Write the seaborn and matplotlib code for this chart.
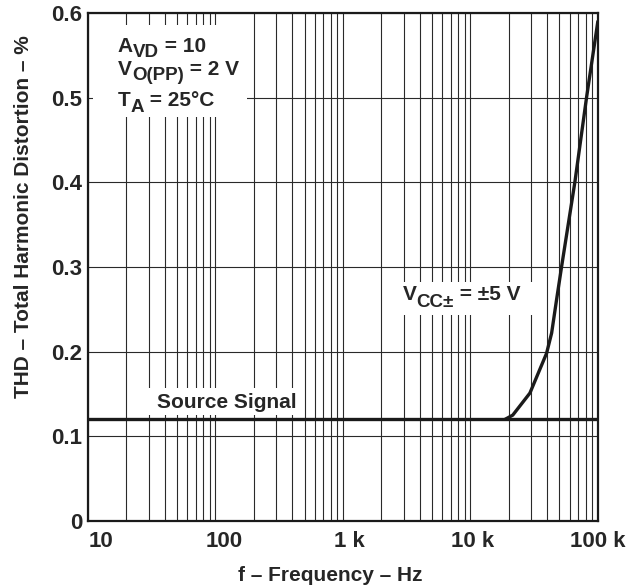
import numpy as np
import pandas as pd
import matplotlib
matplotlib.use("Agg")
import matplotlib.pyplot as plt
import matplotlib.transforms as mtransforms
from matplotlib.patches import Rectangle
import seaborn as sns

# valores
freq_fuente = [10, 100000]
thd_fuente = [0.12, 0.12]

freq_vcc = [18700, 21500, 29300, 39600, 43400, 47400, 51900, 66000, 81500, 100000]
thd_vcc = [0.12, 0.125, 0.151, 0.198, 0.222, 0.261, 0.300, 0.400, 0.500, 0.590]

x_ticks = [10, 100, 1000, 10000, 100000]
x_labels = ["10", "100", "1 k", "10 k", "100 k"]
y_ticks = [0, 0.1, 0.2, 0.3, 0.4, 0.5, 0.6]
y_labels = ["0", "0.1", "0.2", "0.3", "0.4", "0.5", "0.6"]

sns.set_style("white")
plt.rcParams['font.family'] = ['Liberation Sans', 'DejaVu Sans']
plt.rcParams['font.weight'] = 'bold'

df_fuente = pd.DataFrame({'f': freq_fuente, 'thd': thd_fuente})
df_vcc = pd.DataFrame({'f': freq_vcc, 'thd': thd_vcc})

fig = plt.figure(figsize=(6.28, 5.88), dpi=100)
ax = fig.add_axes([0.140, 0.114, 0.812, 0.864])

sns.lineplot(x='f', y='thd', data=df_fuente, ax=ax, color='#1a1a1a', linewidth=2.4, zorder=3)
sns.lineplot(x='f', y='thd', data=df_vcc, ax=ax, color='#1a1a1a', linewidth=2.4, zorder=3,
             estimator=None)

ax.set_xscale('log')
ax.set_xlim(10, 100000)
ax.set_ylim(0, 0.6)
ax.set_xticks(x_ticks)
ax.set_xticklabels(x_labels)
ax.set_yticks(y_ticks)
ax.set_yticklabels(y_labels)
ax.xaxis.set_minor_locator(matplotlib.ticker.LogLocator(base=10, subs=np.arange(2, 10)))
ax.xaxis.set_minor_formatter(matplotlib.ticker.NullFormatter())
ax.grid(True, which='both', axis='x', color='#2a2a2a', linewidth=0.8)
ax.grid(True, which='major', axis='y', color='#2a2a2a', linewidth=0.8)
ax.tick_params(axis='both', which='both', length=0, labelsize=16)
ax.tick_params(axis='x', pad=7)
ax.tick_params(axis='y', pad=4)
for s in ax.spines.values():
    s.set_color('#1a1a1a')
    s.set_linewidth(1.6)

# las etiquetas del eje x van algo corridas a la derecha
corrimiento = [13, 9, 6, 2, 0]
for lab, dx in zip(ax.get_xticklabels(), corrimiento):
    lab.set_transform(lab.get_transform() + mtransforms.ScaledTranslation(dx / 100, 0, fig.dpi_scale_trans))

ax.set_xlabel("f – Frequency – Hz", fontsize=15, fontweight='bold')
ax.set_ylabel("THD – Total Harmonic Distortion – %", fontsize=15, fontweight='bold')
ax.xaxis.set_label_coords(0.476, -0.089)
ax.xaxis.label.set_va('top')
ax.yaxis.set_label_coords(-0.108, 0.60)

# fondos blancos de las anotaciones
for (x, y, w, h) in [(0.010, 0.795, 0.302, 0.181), (0.612, 0.405, 0.265, 0.065), (0.092, 0.209, 0.329, 0.053)]:
    ax.add_patch(Rectangle((x, y), w, h, transform=ax.transAxes, facecolor='white',
                           edgecolor='none', zorder=5))

renderer = fig.canvas.get_renderer()


def texto_sub(x0, y0, partes, size=15, baja=6):
    dx = 0
    for texto, sub in partes:
        fs = size * 0.9 if sub else size
        dy = -baja if sub else 0
        tr = mtransforms.offset_copy(ax.transAxes, fig=fig, x=dx, y=dy, units='dots')
        t = ax.text(x0, y0, texto, transform=tr, fontsize=fs, fontweight='bold',
                    va='baseline', ha='left', zorder=6)
        dx += t.get_window_extent(renderer).width


texto_sub(0.0588, 0.924, [("A", False), ("VD", True), (" = 10", False)], baja=5)
texto_sub(0.0588, 0.877, [("V", False), ("O(PP)", True), (" = 2 V", False)], baja=5)
texto_sub(0.0588, 0.817, [("T", False), ("A", True), (" = 25°C", False)], baja=6)
texto_sub(0.6176, 0.434, [("V", False), ("CC±", True), (" = ±5 V", False)], baja=7)
ax.text(0.135, 0.2224, "Source Signal", transform=ax.transAxes, fontsize=15,
        fontweight='bold', va='baseline', ha='left', zorder=6)

if ax.get_legend() is not None:
    ax.get_legend().remove()

plt.savefig("out.png", dpi=100)
